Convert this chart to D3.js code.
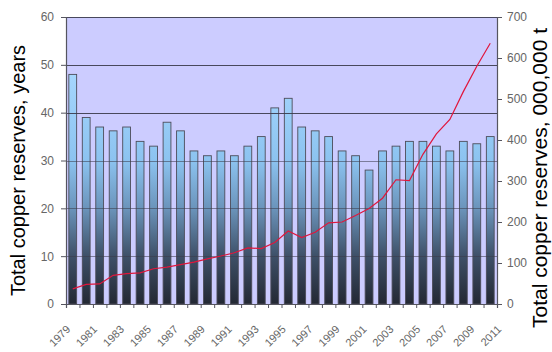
<!DOCTYPE html>
<html>
<head>
<meta charset="utf-8">
<script src="https://cdn.jsdelivr.net/npm/d3@7"></script>
<style>
  html, body { margin: 0; padding: 0; background: #ffffff; }
  svg { display: block; font-family: "Liberation Sans", Arial, sans-serif; }
</style>
</head>
<body>
<svg id="chart" width="552" height="352"></svg>
<script>
// Years covered by the bars and the red reserve line
const years = d3.range(1979, 2011);
// Reserves expressed as years of production (left axis)
const reserveYears = [48, 39, 37, 36.2, 37, 34, 33, 38, 36.2, 32, 31, 32, 31, 33, 35, 41,
                      43, 37, 36.2, 35, 32, 31, 28, 32, 33, 34, 34, 33, 32, 34, 33.5, 35];
// Total reserves in millions of tonnes (right axis)
const reserveTonnes = [37, 48, 49, 70, 74, 76, 86, 90, 96, 102, 110, 117, 125, 137, 135, 150,
                       178, 162, 175, 198, 200, 216, 233, 258, 303, 301, 365, 415, 450, 518, 580, 636];
// Axis ticks
const leftTicks = [0, 10, 20, 30, 40, 50, 60];
const rightTicks = [0, 100, 200, 300, 400, 500, 600, 700];
const labelYears = d3.range(1979, 2012, 2);
const leftTitle = "Total copper reserves, years";
const rightTitle = "Total copper reserves, 000,000 t";

const svg = d3.select("#chart");
const plot = { left: 66, right: 497, top: 17, bottom: 304 };

const yL = d3.scaleLinear().domain([0, 60]).range([plot.bottom, plot.top]);
const yR = d3.scaleLinear().domain([0, 700]).range([plot.bottom, plot.top]);
const xYear = d3.scaleLinear().domain([1979, 2011]).range([plot.left, plot.right]);
const xBand = d3.scaleBand().domain(years).range([plot.left, plot.right])
  .paddingInner(0.42).paddingOuter(0.21);

// Bar gradient: light sky blue at the top fading to dark slate at the base
const defs = svg.append("defs");
const grad = defs.append("linearGradient")
  .attr("id", "barFill")
  .attr("gradientUnits", "userSpaceOnUse")
  .attr("x1", 0).attr("x2", 0)
  .attr("y1", yL(50)).attr("y2", yL(0));
[[0, "#a8d8ff"], [0.4, "#8cc3f0"], [0.6, "#6b94bb"], [0.8, "#3e5068"], [1, "#232833"]]
  .forEach(([o, c]) => grad.append("stop").attr("offset", o).attr("stop-color", c));

// Plot background
svg.append("rect")
  .attr("x", plot.left).attr("y", plot.top)
  .attr("width", plot.right - plot.left).attr("height", plot.bottom - plot.top)
  .attr("fill", "#ccccff");

// Bars
svg.append("g").selectAll("rect")
  .data(years)
  .join("rect")
  .attr("x", d => xBand(d))
  .attr("y", (d, i) => yL(reserveYears[i]))
  .attr("width", xBand.bandwidth())
  .attr("height", (d, i) => yL(0) - yL(reserveYears[i]))
  .attr("fill", "url(#barFill)")
  .attr("stroke", "#4d4d5a")
  .attr("stroke-width", 0.9);

// Horizontal gridlines at left-axis ticks
svg.append("g").selectAll("line")
  .data(leftTicks.filter(t => t > 0))
  .join("line")
  .attr("x1", plot.left).attr("x2", plot.right)
  .attr("y1", d => Math.round(yL(d)) + 0.5).attr("y2", d => Math.round(yL(d)) + 0.5)
  .attr("stroke", "#3a3a4a")
  .attr("stroke-opacity", d => d >= 40 ? 0.9 : 0.55)
  .attr("stroke-width", 1);

// Reserve tonnage line
const line = d3.line()
  .x((d, i) => xBand(years[i]) + xBand.bandwidth() / 2)
  .y(d => yR(d));
svg.append("path")
  .datum(reserveTonnes)
  .attr("d", line)
  .attr("fill", "none")
  .attr("stroke", "#e0163c")
  .attr("stroke-width", 1.2);

// Axes
const axisColor = "#666666";
const gLeft = svg.append("g")
  .attr("transform", `translate(${plot.left},0)`)
  .call(d3.axisLeft(yL).tickValues(leftTicks).tickSize(5).tickPadding(7));
const gRight = svg.append("g")
  .attr("transform", `translate(${plot.right},0)`)
  .call(d3.axisRight(yR).tickValues(rightTicks).tickSize(5).tickPadding(5));
const gBottom = svg.append("g")
  .attr("transform", `translate(0,${plot.bottom})`)
  .call(d3.axisBottom(xYear).tickValues(d3.range(1979, 2012)).tickSize(4).tickFormat(""));

[gLeft, gRight, gBottom].forEach(g => {
  g.select(".domain").attr("stroke", "#55555f").attr("stroke-width", 1.2);
  g.selectAll(".tick line").attr("stroke", "#55555f");
  g.selectAll(".tick text").attr("fill", axisColor).attr("font-size", 12)
    .attr("font-family", "Liberation Sans, Arial, sans-serif");
});

// Rotated year labels on every other tick
svg.append("g").selectAll("text")
  .data(labelYears)
  .join("text")
  .attr("transform", d => `translate(${xYear(d) + 5},${plot.bottom + 26}) rotate(-45)`)
  .attr("text-anchor", "end")
  .attr("fill", axisColor)
  .attr("font-size", 11)
  .text(d => d);

// Axis titles
svg.append("text")
  .attr("transform", `translate(25,${(plot.top + plot.bottom) / 2 + 10}) rotate(-90)`)
  .attr("text-anchor", "middle")
  .attr("font-size", 20)
  .attr("fill", "#000")
  .text(leftTitle);
svg.append("text")
  .attr("transform", `translate(547,178) rotate(-90)`)
  .attr("text-anchor", "middle")
  .attr("font-size", 21)
  .attr("fill", "#000")
  .text(rightTitle);
</script>
</body>
</html>
